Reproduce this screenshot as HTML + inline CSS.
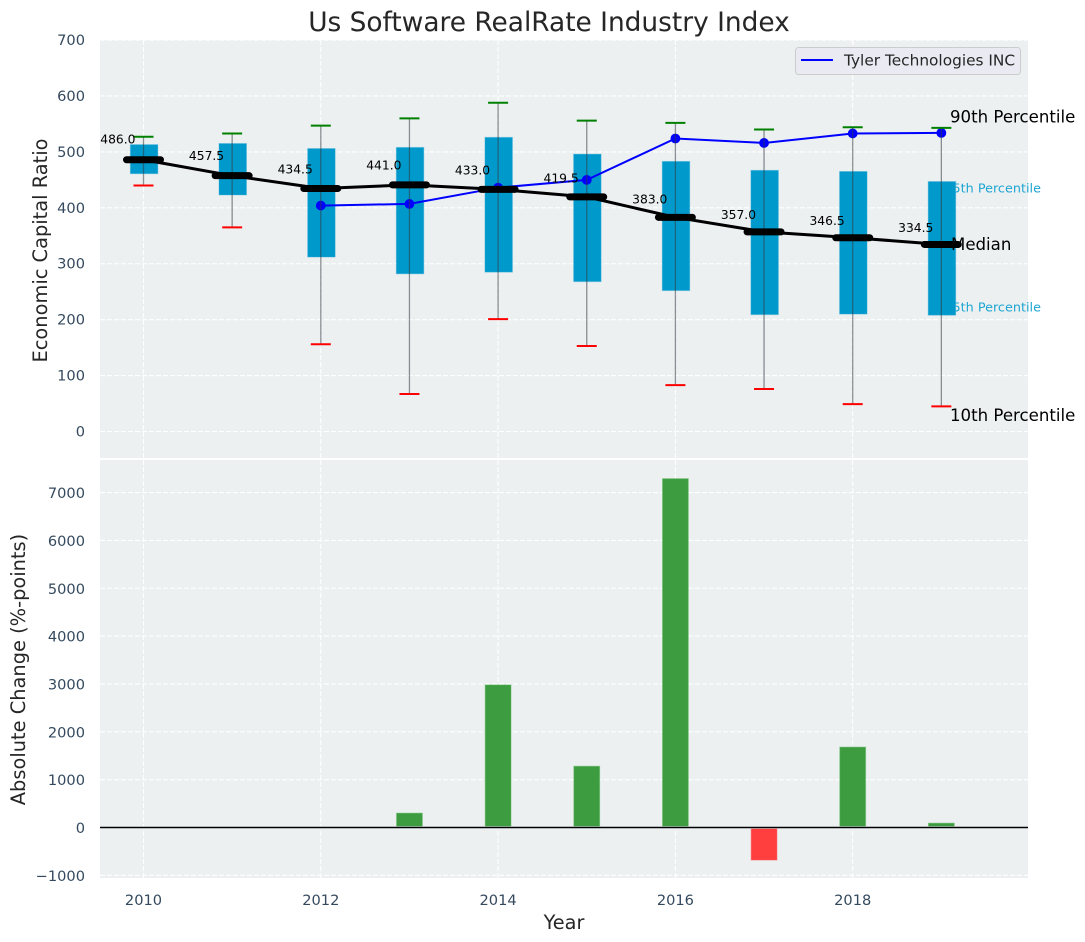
<!DOCTYPE html>
<html>
<head>
<meta charset="utf-8">
<title>Us Software RealRate Industry Index</title>
<style>
html,body{margin:0;padding:0;background:#fff;width:1085px;height:942px;overflow:hidden}
svg{display:block;font-family:"DejaVu Sans","Liberation Sans",sans-serif}
</style>
</head>
<body>
<svg id="chart" width="1085" height="942" viewBox="0 0 1085 942" xmlns="http://www.w3.org/2000/svg"></svg>
<script>
const years = [2010, 2011, 2012, 2013, 2014, 2015, 2016, 2017, 2018, 2019];
const p90 = [527, 533, 547, 560, 588, 556, 552, 540, 544, 543];
const p75 = [513, 515, 506, 508, 526, 496, 483, 467, 465, 447];
const medians = [486.0, 457.5, 434.5, 441.0, 433.0, 419.5, 383.0, 357.0, 346.5, 334.5];
const p25 = [461, 423, 312, 282, 285, 268, 252, 209, 210, 208];
const p10 = [440, 365, 156, 67, 201, 153, 83, 76, 49, 45];
const tylerYears = [2012, 2013, 2014, 2015, 2016, 2017, 2018, 2019];
const tylerValues = [404, 407, 436, 450, 524, 516, 533, 534];
const changeYears = [2013, 2014, 2015, 2016, 2017, 2018, 2019];
const changeValues = [300, 2980, 1280, 7290, -680, 1680, 90];
const xTicks = [2010, 2012, 2014, 2016, 2018];
const topYTicks = [0, 100, 200, 300, 400, 500, 600, 700];
const bottomYTicks = [-1000, 0, 1000, 2000, 3000, 4000, 5000, 6000, 7000];

const svg = document.getElementById('chart');
const NS = 'http://www.w3.org/2000/svg';
const left = 100, right = 1028, topA = 40, topB = 458, botA = 460, botB = 878;
const X = v => 143.5 + (v - 2010) * 88.65;
const YT = v => 431.5 - v * 0.5592;
const YB = v => 827.5 - v * 0.04785;
const boxW = 27.5, barW = 25.8, capW = 20, medW = 34;

function add(tag, attrs, text, parent) {
  const el = document.createElementNS(NS, tag);
  for (const k in attrs) el.setAttribute(k, attrs[k]);
  if (text !== undefined) el.textContent = text;
  (parent || svg).appendChild(el);
  return el;
}
function label(s, x, y, size, fill, anchor) {
  return add('text', {x: x, y: y, 'font-size': size, fill: fill, 'text-anchor': anchor || 'start'}, s);
}
const tickCol = '#34495e', labCol = '#262626';
let el;

/* backgrounds */
el = add('rect', {x: left, y: topA, width: right - left, height: topB - topA, fill: '#ecf0f1'});


el = add('rect', {x: left, y: botA, width: right - left, height: botB - botA, fill: '#ecf0f1'});



/* grid */
const gridStyle = {stroke: '#ffffff', 'stroke-width': 1.1, 'stroke-dasharray': '5 2', 'stroke-opacity': 0.95};
topYTicks.forEach(t => {
  el = add('line', Object.assign({x1: left, x2: right, y1: YT(t), y2: YT(t)}, gridStyle));
  
  
  el = label(String(t), 85, YT(t) + 5, 14.6, tickCol, 'end');
  
  
});
bottomYTicks.forEach(t => {
  el = add('line', Object.assign({x1: left, x2: right, y1: YB(t), y2: YB(t)}, gridStyle));
  
  
  el = label(String(t).replace('-', '\u2212'), 85, YB(t) + 5.5, 14.6, tickCol, 'end');
  
  
});
xTicks.forEach(t => {
  el = add('line', Object.assign({x1: X(t), x2: X(t), y1: topA, y2: topB}, gridStyle));
  
  
  el = add('line', Object.assign({x1: X(t), x2: X(t), y1: botA, y2: botB}, gridStyle));
  
  
  el = label(String(t), X(t), 905, 14.6, tickCol, 'middle');
  
  
});

/* percentile annotations that sit beneath the last box */
const lastI = years.length - 1;
el = label('75th Percentile', X(years[lastI]) + 3, YT(p75[lastI]) + 11, 12.8, '#1ea6d3');


el = label('25th Percentile', X(years[lastI]) + 3, YT(p25[lastI]) - 3.5, 12.8, '#1ea6d3');



/* boxes */
years.forEach((y, i) => {
  el = add('rect', {x: X(y) + 0.6 - boxW / 2, y: YT(p75[i]), width: boxW, height: YT(p25[i]) - YT(p75[i]), fill: '#0099cc', stroke: '#3fb0d8', 'stroke-opacity': 0.4, 'stroke-width': 1});
  
  
});

/* Tyler series */
el = add('polyline', {points: tylerYears.map((y, i) => X(y) + ',' + YT(tylerValues[i])).join(' '), fill: 'none', stroke: '#0000ff', 'stroke-width': 2});


tylerYears.forEach((y, i) => {
  el = add('circle', {cx: X(y), cy: YT(tylerValues[i]), r: 4.9, fill: '#0000ff'});
  
  
});

/* whiskers */
years.forEach((y, i) => {
  el = add('line', {x1: X(y), x2: X(y), y1: YT(p10[i]), y2: YT(p90[i]), stroke: '#333a40', 'stroke-opacity': 0.55, 'stroke-width': 1.3});
  
  
  el = add('line', {x1: X(y) - capW / 2, x2: X(y) + capW / 2, y1: YT(p90[i]), y2: YT(p90[i]), stroke: '#008000', 'stroke-width': 2});
  
  
  el = add('line', {x1: X(y) - capW / 2, x2: X(y) + capW / 2, y1: YT(p10[i]), y2: YT(p10[i]), stroke: '#ff0000', 'stroke-width': 2});
  
  
});

/* right side annotations */
el = label('90th Percentile', 950, 122.5, 16.6, '#000');


el = label('Median', 951, 250, 16.6, '#000');


el = label('10th Percentile', 950, 421, 16.6, '#000');



/* median */
el = add('polyline', {points: years.map((y, i) => X(y) + ',' + YT(medians[i])).join(' '), fill: 'none', stroke: '#000', 'stroke-width': 3});


years.forEach((y, i) => {
  el = add('line', {x1: X(y) - medW / 2, x2: X(y) + medW / 2, y1: YT(medians[i]), y2: YT(medians[i]), stroke: '#000', 'stroke-width': 7, 'stroke-linecap': 'round'});
  
  
  el = label(medians[i].toFixed(1), X(y) - 8, YT(medians[i]) - (12.5 + (medians[i] - 334.5) * 0.025), 12.3, '#000', 'end');
  
  
});

/* legend */
el = add('rect', {x: 795.5, y: 47.5, width: 225, height: 27, rx: 3, fill: '#eaeaf2', 'fill-opacity': 0.85, stroke: '#cccccc', 'stroke-width': 1});


el = add('line', {x1: 801, x2: 833, y1: 60, y2: 60, stroke: '#0000ff', 'stroke-width': 2});


el = label('Tyler Technologies INC', 844, 65.5, 15.35, labCol);



/* bars */
changeYears.forEach((y, i) => {
  const v = changeValues[i];
  const pos = v >= 0;
  el = add('rect', {x: X(y) - barW / 2, y: pos ? YB(v) : YB(0), width: barW, height: Math.abs(YB(v) - YB(0)), fill: pos ? '#3c9c3f' : '#ff3e3e', stroke: pos ? '#5bb75e' : '#ff6060', 'stroke-opacity': 0.5, 'stroke-width': 1});
  
  
});
el = add('line', {x1: left, x2: right, y1: YB(0), y2: YB(0), stroke: '#bfc3c6', 'stroke-width': 2.4});


el = add('line', {x1: left, x2: right, y1: YB(0), y2: YB(0), stroke: '#000', 'stroke-width': 1.3});



/* titles */
el = label('Us Software RealRate Industry Index', 549, 31, 26.4, labCol, 'middle');


el = label('Year', 564, 929, 19.3, labCol, 'middle');


el = label('Economic Capital Ratio', 0, 0, 19.4, labCol, 'middle');
el.setAttribute('transform', 'translate(47,250.5) rotate(-90)');


el = label('Absolute Change (%-points)', 0, 0, 19.4, labCol, 'middle');
el.setAttribute('transform', 'translate(25,669.5) rotate(-90)');


</script>
</body>
</html>
